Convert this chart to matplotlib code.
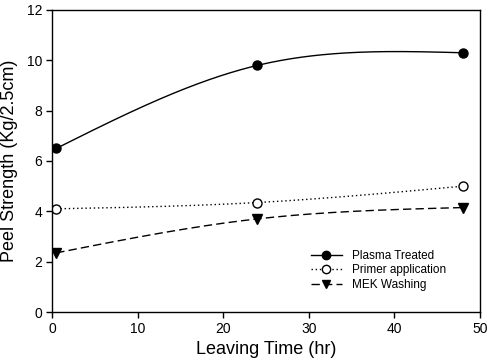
import numpy as np
import matplotlib
matplotlib.use("Agg")
import matplotlib.pyplot as plt
from matplotlib.lines import Line2D

plt.rcParams['font.family'] = ['Liberation Sans', 'DejaVu Sans']

time_hr = [0.5, 24, 48]
plasma = [6.5, 9.8, 10.3]
primer = [4.1, 4.35, 5.0]
mek = [2.35, 3.7, 4.15]
series_names = ["Plasma Treated", "Primer application", "MEK Washing"]
xticks = [0, 10, 20, 30, 40, 50]
yticks = [0, 2, 4, 6, 8, 10, 12]


def natural_spline(x, y, n=200):
    x = np.asarray(x, float); y = np.asarray(y, float)
    k = len(x); h = np.diff(x)
    A = np.zeros((k, k)); b = np.zeros(k)
    A[0, 0] = 1; A[-1, -1] = 1
    for i in range(1, k - 1):
        A[i, i - 1] = h[i - 1]; A[i, i] = 2 * (h[i - 1] + h[i]); A[i, i + 1] = h[i]
        b[i] = 6 * ((y[i + 1] - y[i]) / h[i] - (y[i] - y[i - 1]) / h[i - 1])
    M = np.linalg.solve(A, b)
    xs = np.linspace(x[0], x[-1], n)
    ys = np.empty_like(xs)
    for j, t in enumerate(xs):
        i = min(np.searchsorted(x, t, side='right') - 1, k - 2)
        a, c = x[i], x[i + 1]; hh = c - a
        ys[j] = (M[i] * (c - t) ** 3 / (6 * hh) + M[i + 1] * (t - a) ** 3 / (6 * hh)
                 + (y[i] / hh - M[i] * hh / 6) * (c - t) + (y[i + 1] / hh - M[i + 1] * hh / 6) * (t - a))
    return xs, ys


fig = plt.figure(figsize=(4.87, 3.64), dpi=100)
ax = fig.add_axes([52 / 487, 1 - 312 / 364, 428 / 487, 302 / 364])

styles = [
    dict(ls='-', marker='o', mfc='black', mec='black'),
    dict(ls=(0, (1, 2)), marker='o', mfc='white', mec='black'),
    dict(ls=(0, (6, 3)), marker='v', mfc='black', mec='black'),
]
handles = []
for data, st, name in zip([plasma, primer, mek], styles, series_names):
    xs, ys = natural_spline(time_hr, data)
    ax.plot(xs, ys, color='black', lw=1.0, ls=st['ls'])
    ax.plot(time_hr, data, ls='none', marker=st['marker'], ms=6.5,
            mfc=st['mfc'], mec=st['mec'], mew=1.0)
    handles.append(Line2D([], [], color='black', lw=1.0, ls=st['ls'], marker=st['marker'],
                          ms=6, mfc=st['mfc'], mec=st['mec'], mew=1.0))

ax.set_xlim(0, 50)
ax.set_ylim(0, 12)
ax.set_xticks(xticks)
ax.set_yticks(yticks)
ax.tick_params(direction='out', length=4, width=1, labelsize=10, pad=3)
for s in ax.spines.values():
    s.set_linewidth(1.0)
ax.set_xlabel("Leaving Time (hr)", fontsize=13, labelpad=4)
ax.set_ylabel("Peel Strength (Kg/2.5cm)", fontsize=13, labelpad=6)

ax.legend(handles, series_names, loc='lower left', frameon=False, fontsize=8.5,
          handlelength=2.6, handletextpad=0.9, labelspacing=0.2,
          bbox_to_anchor=(0.58, 0.035))

fig.savefig("out.png", dpi=100)
